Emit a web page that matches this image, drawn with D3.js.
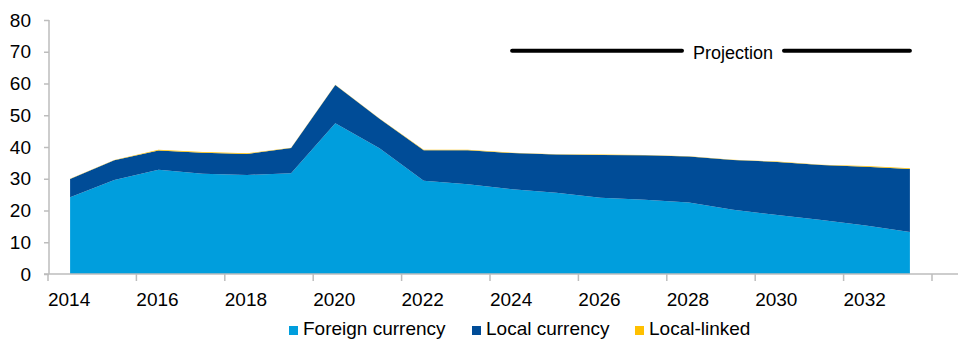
<!DOCTYPE html>
<html>
<head>
<meta charset="utf-8">
<script src="https://cdn.jsdelivr.net/npm/d3@7"></script>
<style>
  body { margin: 0; background: #fff; }
  svg { display: block; font-family: "Liberation Sans", Arial, sans-serif; }
</style>
</head>
<body>
<svg id="chart" width="965" height="339"></svg>
<script>
const years = [2014,2015,2016,2017,2018,2019,2020,2021,2022,2023,2024,2025,2026,2027,2028,2029,2030,2031,2032,2033];
const foreignCurrency = [24.2,29.6,32.8,31.6,31.2,31.7,47.5,39.6,29.4,28.3,26.7,25.6,24.0,23.4,22.5,20.2,18.6,17.0,15.3,13.2];
const totalDebt = [30.0,35.9,39.1,38.4,38.0,39.8,59.6,49.0,39.1,39.1,38.2,37.7,37.6,37.5,37.1,36.0,35.4,34.4,34.0,33.3];
const localLinked = [0.1,0.1,0.2,0.2,0.2,0.1,0.1,0.1,0.1,0.1,0.1,0.1,0.1,0.1,0.1,0.1,0.1,0.1,0.2,0.2];
const localCurrency = totalDebt.map((t, i) => +(t - foreignCurrency[i] - localLinked[i]).toFixed(2));
const yTicks = [0,10,20,30,40,50,60,70,80];
const xLabels = [2014,2016,2018,2020,2022,2024,2026,2028,2030,2032];
const seriesNames = ["Foreign currency", "Local currency", "Local-linked"];
const seriesColors = ["#009EDD", "#004C97", "#FFC000"];
const projection = { label: "Projection", from: 2024, to: 2033, value: 70 };

const svg = d3.select("#chart");
const x = d3.scaleBand().domain(years).range([48, 932]).padding(0);
const y = d3.scaleLinear().domain([0, 80]).range([274, 20]);
const cx = d => x(d) + x.bandwidth() / 2;

const rows = years.map((yr, i) => ({
  year: yr,
  "Foreign currency": foreignCurrency[i],
  "Local currency": localCurrency[i],
  "Local-linked": localLinked[i]
}));
const stack = d3.stack().keys(seriesNames);
const layers = stack(rows);
const area = d3.area()
  .x(d => cx(d.data.year))
  .y0(d => y(d[0]))
  .y1(d => y(d[1]));

svg.append("g").selectAll("path")
  .data(layers)
  .join("path")
  .attr("d", area)
  .attr("fill", (d, i) => seriesColors[i]);

const axisColor = "#BDBDBD";
// Y axis
const yAxis = svg.append("g").attr("transform", "translate(49,0)")
  .call(d3.axisLeft(y).tickValues(yTicks).tickSize(5).tickPadding(13).tickFormat(d3.format("d")));
yAxis.select(".domain").attr("stroke", axisColor).attr("stroke-width", 1.5).attr("d", `M0,${y(80)}V${y(0)}`);
yAxis.selectAll(".tick line").attr("stroke", axisColor).attr("stroke-width", 1.5);
yAxis.selectAll(".tick text").attr("font-size", 19).attr("fill", "#000")
  .style("font-family", "'Liberation Sans', Arial, sans-serif");

// X axis line
svg.append("line")
  .attr("x1", 44).attr("x2", 958)
  .attr("y1", y(0)).attr("y2", y(0))
  .attr("stroke", axisColor).attr("stroke-width", 1.5);
// X tick marks at category boundaries
const tickPos = xLabels.map(d => x(d)).concat([x(years[years.length - 1]) + x.bandwidth()]);
svg.append("g").selectAll("line")
  .data(tickPos)
  .join("line")
  .attr("x1", d => d).attr("x2", d => d)
  .attr("y1", y(0)).attr("y2", y(0) + 7)
  .attr("stroke", axisColor).attr("stroke-width", 1.5);
// X labels
svg.append("g").selectAll("text")
  .data(xLabels)
  .join("text")
  .attr("x", d => cx(d) - 1)
  .attr("y", 306)
  .attr("text-anchor", "middle")
  .attr("font-size", 19)
  .attr("fill", "#000")
  .text(d => d);

// Projection marker
const px1 = cx(projection.from), px2 = cx(projection.to), py = y(projection.value) - 1;
const ptext = svg.append("text")
  .attr("x", (px1 + px2) / 2 + 22)
  .attr("y", 59)
  .attr("text-anchor", "middle")
  .attr("font-size", 18)
  .attr("fill", "#000")
  .text(projection.label);
const bb = ptext.node().getBBox();
const gap = 11;
svg.append("g").selectAll("line")
  .data([[px1, bb.x - gap], [bb.x + bb.width + gap, px2]])
  .join("line")
  .attr("x1", d => d[0]).attr("x2", d => d[1])
  .attr("y1", py).attr("y2", py)
  .attr("stroke", "#000").attr("stroke-width", 4).attr("stroke-linecap", "round");

// Legend
const legendX = [289, 472, 635];
const lg = svg.append("g").selectAll("g")
  .data(seriesNames)
  .join("g")
  .attr("transform", (d, i) => `translate(${legendX[i]},0)`);
lg.append("rect").attr("x", 0).attr("y", 326).attr("width", 9).attr("height", 9)
  .attr("fill", (d, i) => seriesColors[i]);
lg.append("text").attr("x", 14).attr("y", 335).attr("font-size", 19).attr("fill", "#000")
  .text(d => d);
</script>
</body>
</html>
